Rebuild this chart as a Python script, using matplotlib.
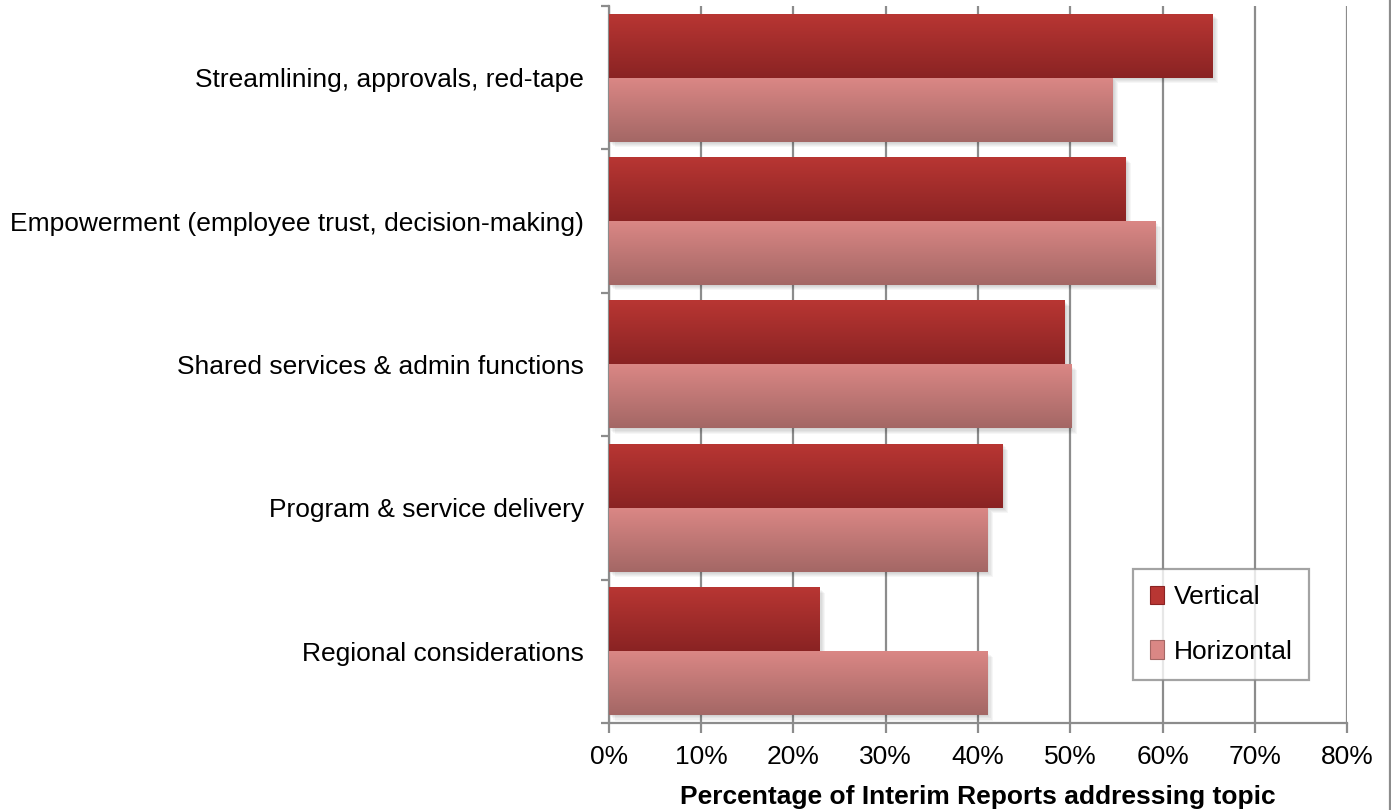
import numpy as np
import matplotlib.pyplot as plt
import matplotlib.ticker as mticker
import matplotlib.transforms as mtransforms
from matplotlib.colors import to_rgb
from matplotlib.patches import Rectangle
from matplotlib.lines import Line2D

plt.rcParams["font.family"] = ["Liberation Sans", "DejaVu Sans"]

# ── Data ──────────────────────────────────────────────────────────────────────
categories = [
    "Streamlining, approvals, red-tape",
    "Empowerment (employee trust, decision-making)",
    "Shared services & admin functions",
    "Program & service delivery",
    "Regional considerations",
]
vertical   = [65.4, 56.0, 49.4, 42.7, 22.8]
horizontal = [54.6, 59.2, 50.1, 41.0, 41.0]
series_names = ["Vertical", "Horizontal"]
x_ticks = [0, 10, 20, 30, 40, 50, 60, 70, 80]

# ── Style ─────────────────────────────────────────────────────────────────────
GRID = "#8c8c8c"
FS = 19
GRAD = {
    "Vertical":   ("#b83633", "#8a2323"),   # top → bottom
    "Horizontal": ("#da8785", "#a46765"),
}


def gradient_fill(ax, patch, top, bottom):
    """Paint a vertical gradient inside a bar patch plus a soft shadow."""
    x0, y0 = patch.get_x(), patch.get_y()
    w, h = patch.get_width(), patch.get_height()
    # soft shadow, offset down-right in pixels
    for k in range(1, 6):
        tr = mtransforms.offset_copy(ax.transData, fig=ax.figure,
                                     x=k * 0.8, y=-k * 0.8, units="points")
        ax.add_patch(Rectangle((x0, y0), w, h, transform=tr,
                               facecolor="black", alpha=0.035, lw=0, zorder=2))
    c0, c1 = np.array(to_rgb(top)), np.array(to_rgb(bottom))
    t = np.linspace(0, 1, 64)[:, None]
    img = (c0 * (1 - t) + c1 * t)[:, None, :]
    ax.imshow(img, extent=(x0, x0 + w, y0 + h, y0), aspect="auto",
              origin="upper", zorder=3, interpolation="bilinear")
    patch.set_visible(False)


fig = plt.figure(figsize=(13.91, 8.10), dpi=100)
ax = fig.add_axes([0.4378, 0.1074, 0.9684 - 0.4378, 0.9926 - 0.1074])

y = np.arange(len(categories))
bh = 0.445
bars_v = ax.barh(y - bh / 2, vertical, height=bh, color=GRAD["Vertical"][0])
bars_h = ax.barh(y + bh / 2, horizontal, height=bh, color=GRAD["Horizontal"][0])

ax.set_xlim(0, 80)
ax.set_ylim(len(categories) - 0.5, -0.5)

for p in bars_v:
    gradient_fill(ax, p, *GRAD["Vertical"])
for p in bars_h:
    gradient_fill(ax, p, *GRAD["Horizontal"])

# ── Axes ──────────────────────────────────────────────────────────────────────
ax.set_xticks(x_ticks)
ax.xaxis.set_major_formatter(mticker.FuncFormatter(lambda v, _: f"{v:.0f}%"))
ax.grid(axis="x", color=GRID, lw=1.6, zorder=1)
ax.set_axisbelow(True)

ax.set_yticks(y)
ax.set_yticklabels(categories)
ax.set_yticks(np.arange(len(categories) + 1) - 0.5, minor=True)
ax.tick_params(axis="y", which="major", length=0, pad=18, labelsize=FS)
ax.tick_params(axis="y", which="minor", length=6, width=1.6, color=GRID)
ax.tick_params(axis="x", length=7, width=1.6, color=GRID, labelsize=FS, pad=9)

for s in ["top", "right"]:
    ax.spines[s].set_visible(False)
for s in ["left", "bottom"]:
    ax.spines[s].set_color(GRID)
    ax.spines[s].set_linewidth(1.6)

ax.set_xlabel("Percentage of Interim Reports addressing topic",
              fontsize=FS, fontweight="bold", labelpad=11)

# ── Legend ────────────────────────────────────────────────────────────────────
handles = [Rectangle((0, 0), 1, 1, facecolor=GRAD[n][0], edgecolor=GRAD[n][1], lw=0.8)
           for n in series_names]
leg = ax.legend(handles, series_names, loc="lower right",
                bbox_to_anchor=(0.948, 0.06), fontsize=FS, frameon=True,
                fancybox=False, edgecolor=GRID, handlelength=0.55, handleheight=0.7,
                handletextpad=0.35, labelspacing=1.15, borderpad=0.62,
                borderaxespad=0)
leg.get_frame().set_linewidth(1.6)
leg.set_zorder(5)

# right border of chart area
fig.add_artist(Line2D([0.9993, 0.9993], [0, 1], color=GRID, lw=1.6,
                      transform=fig.transFigure))

fig.savefig("out.png", dpi=100)
